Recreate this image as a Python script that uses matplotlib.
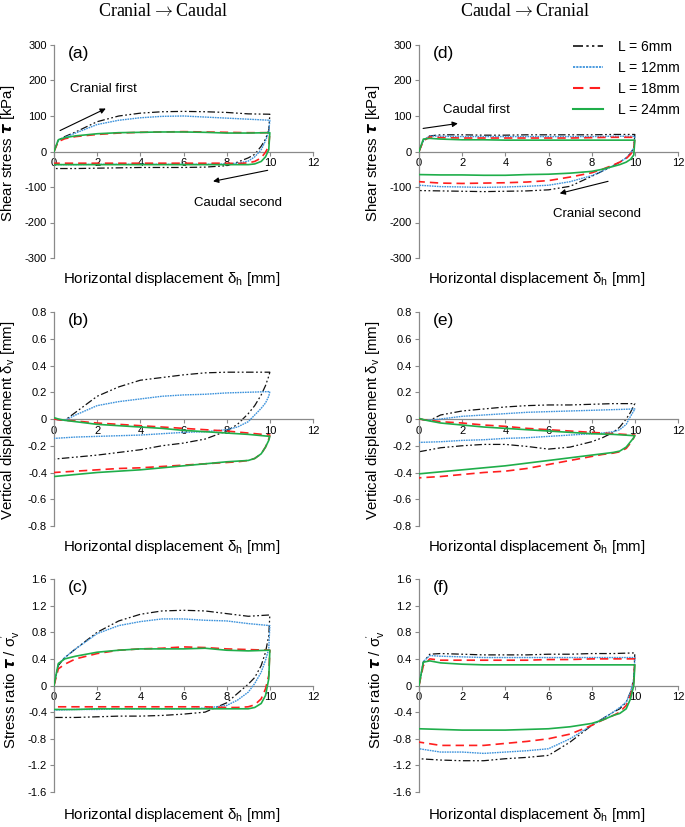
import matplotlib
matplotlib.use("Agg")
import matplotlib.pyplot as plt
from matplotlib.lines import Line2D

plt.rcParams['font.family'] = ['Liberation Sans', 'DejaVu Sans']
plt.rcParams['mathtext.fontset'] = 'custom'
plt.rcParams['mathtext.rm'] = 'Liberation Sans'
plt.rcParams['mathtext.it'] = 'Liberation Sans:italic'
plt.rcParams['mathtext.bf'] = 'Liberation Sans:bold'

# ---------------- data ----------------
series_names = ["L = 6mm", "L = 12mm", "L = 18mm", "L = 24mm"]
x_fwd = [0, 0.2, 0.5, 1, 2, 3, 4, 5, 6, 7, 8, 9, 10]
x_rev = [10, 9.95, 9.8, 9.6, 9.3, 9.0, 8.5, 8, 7, 6, 5, 4, 3, 2, 1, 0]

# (a) shear stress, Cranial -> Caudal
a_fwd_6 = [0, 32, 42, 55, 84, 100, 108, 112, 113, 112, 110, 106, 105]
a_fwd_12 = [0, 33, 40, 52, 76, 88, 95, 99, 100, 97, 94, 91, 88]
a_fwd_18 = [0, 28, 36, 42, 48, 52, 54, 55, 56, 55, 54, 53, 53]
a_fwd_24 = [0, 33, 39, 44, 50, 53, 54, 55, 55, 54, 52, 52, 53]
a_rev_6 = [105, 60, 35, 15, -8, -18, -30, -40, -44, -45, -45, -45, -46, -47, -48, -48]
a_rev_12 = [88, 55, 30, 5, -15, -27, -33, -35, -36, -36, -36, -36, -36, -36, -37, -37]
a_rev_18 = [53, 15, -2, -18, -28, -32, -34, -33, -33, -33, -33, -33, -33, -33, -33, -33]
a_rev_24 = [53, 5, -15, -28, -35, -37, -37, -37, -37, -37, -37, -37, -37, -37, -37, -37]

# (d) shear stress, Caudal -> Cranial
d_fwd_6 = [0, 30, 44, 47, 47, 46, 46, 47, 47, 47, 47, 48, 48]
d_fwd_12 = [0, 32, 44, 43, 42, 42, 42, 42, 42, 42, 42, 43, 43]
d_fwd_18 = [0, 30, 41, 39, 38, 38, 38, 38, 38, 38, 39, 40, 40]
d_fwd_24 = [0, 35, 37, 35, 33, 33, 32, 32, 32, 32, 32, 32, 32]
d_rev_6 = [48, 10, -5, -18, -30, -40, -55, -70, -98, -108, -111, -112, -113, -112, -111, -110]
d_rev_12 = [43, 10, -5, -18, -30, -40, -55, -68, -85, -95, -98, -100, -101, -100, -99, -95]
d_rev_18 = [40, 5, -8, -20, -30, -38, -50, -60, -72, -82, -86, -88, -89, -90, -89, -85]
d_rev_24 = [32, -10, -22, -30, -37, -42, -50, -56, -61, -64, -65, -67, -67, -66, -66, -65]

# (b) vertical displacement, Cranial -> Caudal
b_fwd_6 = [0, -0.005, -0.01, 0.05, 0.17, 0.24, 0.29, 0.31, 0.33, 0.345, 0.35, 0.35, 0.35]
b_fwd_12 = [0, -0.005, -0.01, 0.03, 0.10, 0.13, 0.15, 0.17, 0.18, 0.185, 0.195, 0.20, 0.205]
b_fwd_18 = [0, -0.005, -0.01, -0.015, -0.03, -0.04, -0.05, -0.06, -0.07, -0.08, -0.09, -0.105, -0.12]
b_fwd_24 = [0.01, 0, -0.01, -0.02, -0.04, -0.05, -0.06, -0.07, -0.085, -0.095, -0.105, -0.115, -0.13]
b_rev_6 = [0.35, 0.32, 0.25, 0.18, 0.10, 0.04, -0.04, -0.09, -0.15, -0.18, -0.20, -0.23, -0.25, -0.27, -0.285, -0.30]
b_rev_12 = [0.205, 0.17, 0.12, 0.08, 0.03, -0.02, -0.06, -0.08, -0.095, -0.10, -0.11, -0.12, -0.125, -0.13, -0.135, -0.145]
b_rev_18 = [-0.12, -0.15, -0.21, -0.26, -0.295, -0.31, -0.32, -0.325, -0.335, -0.345, -0.355, -0.365, -0.37, -0.38, -0.39, -0.40]
b_rev_24 = [-0.13, -0.16, -0.21, -0.26, -0.295, -0.31, -0.315, -0.32, -0.335, -0.35, -0.365, -0.38, -0.39, -0.40, -0.415, -0.43]

# (e) vertical displacement, Caudal -> Cranial
e_fwd_6 = [0, -0.005, -0.01, 0.03, 0.06, 0.075, 0.09, 0.10, 0.105, 0.105, 0.11, 0.115, 0.115]
e_fwd_12 = [0, -0.005, -0.01, 0.0, 0.02, 0.03, 0.04, 0.05, 0.055, 0.06, 0.065, 0.07, 0.075]
e_fwd_18 = [0, -0.005, -0.01, -0.02, -0.03, -0.045, -0.055, -0.07, -0.08, -0.09, -0.10, -0.11, -0.12]
e_fwd_24 = [0.005, -0.005, -0.015, -0.03, -0.045, -0.06, -0.07, -0.08, -0.09, -0.10, -0.11, -0.115, -0.125]
e_rev_6 = [0.115, 0.10, 0.05, 0.0, -0.06, -0.10, -0.14, -0.17, -0.21, -0.225, -0.205, -0.19, -0.19, -0.20, -0.215, -0.245]
e_rev_12 = [0.075, 0.06, 0.02, -0.04, -0.08, -0.095, -0.105, -0.11, -0.12, -0.13, -0.14, -0.145, -0.155, -0.16, -0.17, -0.175]
e_rev_18 = [-0.12, -0.14, -0.18, -0.22, -0.245, -0.255, -0.265, -0.28, -0.31, -0.34, -0.37, -0.39, -0.40, -0.415, -0.43, -0.44]
e_rev_24 = [-0.125, -0.14, -0.17, -0.21, -0.24, -0.25, -0.26, -0.27, -0.29, -0.31, -0.33, -0.35, -0.365, -0.38, -0.395, -0.41]

# (c) stress ratio, Cranial -> Caudal
c_fwd_6 = [0, 0.30, 0.42, 0.55, 0.80, 0.97, 1.07, 1.12, 1.13, 1.12, 1.08, 1.04, 1.06]
c_fwd_12 = [0, 0.32, 0.42, 0.55, 0.78, 0.90, 0.96, 1.00, 1.00, 0.98, 0.97, 0.93, 0.90]
c_fwd_18 = [0, 0.25, 0.32, 0.40, 0.48, 0.53, 0.55, 0.56, 0.58, 0.57, 0.55, 0.54, 0.53]
c_fwd_24 = [0, 0.33, 0.40, 0.44, 0.50, 0.53, 0.55, 0.55, 0.55, 0.56, 0.53, 0.52, 0.53]
c_rev_6 = [1.06, 0.75, 0.50, 0.30, 0.12, 0.02, -0.12, -0.26, -0.40, -0.43, -0.45, -0.46, -0.46, -0.47, -0.48, -0.48]
c_rev_12 = [0.90, 0.55, 0.38, 0.20, 0.03, -0.10, -0.22, -0.30, -0.34, -0.35, -0.35, -0.35, -0.35, -0.36, -0.36, -0.37]
c_rev_18 = [0.53, 0.15, -0.05, -0.20, -0.29, -0.32, -0.33, -0.33, -0.32, -0.32, -0.32, -0.32, -0.32, -0.32, -0.32, -0.32]
c_rev_24 = [0.53, 0.10, -0.15, -0.27, -0.33, -0.35, -0.35, -0.35, -0.35, -0.35, -0.35, -0.35, -0.35, -0.35, -0.36, -0.36]

# (f) stress ratio, Caudal -> Cranial
f_fwd_6 = [0, 0.35, 0.47, 0.48, 0.47, 0.46, 0.46, 0.46, 0.47, 0.47, 0.48, 0.48, 0.49]
f_fwd_12 = [0, 0.36, 0.45, 0.44, 0.43, 0.42, 0.42, 0.42, 0.42, 0.42, 0.42, 0.42, 0.42]
f_fwd_18 = [0, 0.30, 0.40, 0.38, 0.38, 0.38, 0.38, 0.38, 0.39, 0.39, 0.40, 0.40, 0.40]
f_fwd_24 = [0, 0.35, 0.37, 0.34, 0.32, 0.31, 0.31, 0.31, 0.31, 0.31, 0.31, 0.31, 0.31]
f_rev_6 = [0.49, 0.10, -0.10, -0.25, -0.35, -0.40, -0.50, -0.60, -0.85, -1.05, -1.08, -1.10, -1.13, -1.13, -1.12, -1.10]
f_rev_12 = [0.42, 0.10, -0.10, -0.25, -0.33, -0.40, -0.50, -0.60, -0.80, -0.95, -0.98, -1.00, -1.02, -1.00, -1.00, -0.95]
f_rev_18 = [0.40, 0.05, -0.15, -0.30, -0.40, -0.45, -0.52, -0.60, -0.73, -0.80, -0.84, -0.87, -0.90, -0.90, -0.90, -0.85]
f_rev_24 = [0.31, 0.00, -0.20, -0.35, -0.42, -0.45, -0.52, -0.57, -0.62, -0.65, -0.66, -0.67, -0.67, -0.67, -0.66, -0.65]

x_ticks = [0, 2, 4, 6, 8, 10, 12]
y_ticks_tau = [-300, -200, -100, 0, 100, 200, 300]
y_ticks_dv = [-0.8, -0.6, -0.4, -0.2, 0, 0.2, 0.4, 0.6, 0.8]
y_ticks_ratio = [-1.6, -1.2, -0.8, -0.4, 0, 0.4, 0.8, 1.2, 1.6]
col_titles = [r"Cranial$\rightarrow$Caudal", r"Caudal$\rightarrow$Cranial"]

# ---------------- styles ----------------
colors = ["#111111", "#3d93dc", "#ff1f1f", "#1fae4a"]
styles = [(0, (6, 2, 1.4, 2, 1.4, 2)), (0, (1.2, 0.6)), (0, (5, 3)), "-"]
widths = [0.9, 1.0, 1.2, 1.2]
spine_col = "#8a8a8a"

fig = plt.figure(figsize=(6.85, 8.27), dpi=100)
W, H = 685.0, 827.0
col_x = [54, 419]
row_y = [(45, 258), (312, 526), (579, 792)]
axw = 259


def make_ax(col, row):
    top, bot = row_y[row]
    return fig.add_axes([col_x[col] / W, 1 - bot / H, axw / W, (bot - top) / H])


panels = [
    (0, 0, "(a)", [a_fwd_6, a_fwd_12, a_fwd_18, a_fwd_24], [a_rev_6, a_rev_12, a_rev_18, a_rev_24],
     (-300, 300), y_ticks_tau, r"Shear stress $\boldsymbol{\tau}$ [kPa]"),
    (1, 0, "(d)", [d_fwd_6, d_fwd_12, d_fwd_18, d_fwd_24], [d_rev_6, d_rev_12, d_rev_18, d_rev_24],
     (-300, 300), y_ticks_tau, r"Shear stress $\boldsymbol{\tau}$ [kPa]"),
    (0, 1, "(b)", [b_fwd_6, b_fwd_12, b_fwd_18, b_fwd_24], [b_rev_6, b_rev_12, b_rev_18, b_rev_24],
     (-0.8, 0.8), y_ticks_dv, r"Vertical displacement δ$_\mathregular{v}$ [mm]"),
    (1, 1, "(e)", [e_fwd_6, e_fwd_12, e_fwd_18, e_fwd_24], [e_rev_6, e_rev_12, e_rev_18, e_rev_24],
     (-0.8, 0.8), y_ticks_dv, r"Vertical displacement δ$_\mathregular{v}$ [mm]"),
    (0, 2, "(c)", [c_fwd_6, c_fwd_12, c_fwd_18, c_fwd_24], [c_rev_6, c_rev_12, c_rev_18, c_rev_24],
     (-1.6, 1.6), y_ticks_ratio, r"Stress ratio $\boldsymbol{\tau}$ / σ$_\mathregular{v}^{\mathregular{'}}$"),
    (1, 2, "(f)", [f_fwd_6, f_fwd_12, f_fwd_18, f_fwd_24], [f_rev_6, f_rev_12, f_rev_18, f_rev_24],
     (-1.6, 1.6), y_ticks_ratio, r"Stress ratio $\boldsymbol{\tau}$ / σ$_\mathregular{v}^{\mathregular{'}}$"),
]

xlab_off = [-0.099, -0.098, -0.108]
ylab_cy = [0.49, 0.495, 0.48]
ylab_cx = [-0.178, -0.176, -0.168]
axes = {}

for col, row, lab, fwds, revs, ylim, yticks, ylabel in panels:
    ax = make_ax(col, row)
    axes[lab] = ax
    for i in range(4):
        xs = x_fwd + x_rev
        ys = fwds[i] + revs[i]
        ax.plot(xs, ys, color=colors[i], linestyle=styles[i], lw=widths[i],
                label=series_names[i], zorder=2 + i)
    ax.set_xlim(0, 12)
    ax.set_ylim(*ylim)
    ax.set_xticks(x_ticks)
    ax.set_yticks(yticks)
    if ylim[1] == 300:
        ax.set_yticklabels([str(v) for v in yticks])
    else:
        ax.set_yticklabels(["0" if v == 0 else f"{v:.1f}" for v in yticks])
    for s in ["top", "right"]:
        ax.spines[s].set_visible(False)
    ax.spines["bottom"].set_position(("data", 0))
    for s in ["left", "bottom"]:
        ax.spines[s].set_color(spine_col)
        ax.spines[s].set_linewidth(0.9)
    ax.tick_params(axis="both", direction="out", length=3, width=0.8, color=spine_col,
                   labelsize=8, pad=2)
    ax.patch.set_visible(False)
    ax.text(0.455, xlab_off[row], r"Horizontal displacement δ$_\mathregular{h}$ [mm]",
            transform=ax.transAxes, ha="center", va="center", fontsize=10.8)
    ax.text(ylab_cx[row], ylab_cy[row], ylabel, transform=ax.transAxes, rotation=90,
            ha="center", va="center", fontsize=10.8)
    ax.text(0.054, 0.962, lab, transform=ax.transAxes, ha="left", va="center", fontsize=12.5)

# annotations
arr = dict(arrowstyle="-|>", lw=0.8, color="black", mutation_scale=8, shrinkA=0, shrinkB=0)
ax = axes["(a)"]
ax.annotate("", xy=(2.4, 121), xytext=(0.28, 59), arrowprops=arr)
ax.text(0.74, 175, "Cranial first", fontsize=9.5, ha="left", va="center")
ax.annotate("", xy=(7.37, -84), xytext=(9.9, -53), arrowprops=arr)
ax.text(6.5, -144, "Caudal second", fontsize=9.5, ha="left", va="center")
ax = axes["(d)"]
ax.annotate("", xy=(1.8, 79), xytext=(0.19, 65), arrowprops=arr)
ax.text(1.1, 118, "Caudal first", fontsize=9.5, ha="left", va="center")
ax.annotate("", xy=(6.52, -118), xytext=(8.76, -84), arrowprops=arr)
ax.text(6.2, -175, "Cranial second", fontsize=9.5, ha="left", va="center")

# legend in (d)
ax = axes["(d)"]
handles = [Line2D([], [], color=colors[i], linestyle=styles[i], lw=widths[i] + 0.3) for i in range(4)]
ax.legend(handles, series_names, loc="upper left", bbox_to_anchor=(0.595, 1.025),
          frameon=False, fontsize=10, handlelength=2.15, handletextpad=1.08,
          labelspacing=0.5, borderpad=0, borderaxespad=0)

# column titles
fig.text(163 / W, 1 - 12 / H, col_titles[0], ha="center", va="center",
         fontsize=13, family="Liberation Serif", math_fontfamily="cm")
fig.text(525 / W, 1 - 12 / H, col_titles[1], ha="center", va="center",
         fontsize=13, family="Liberation Serif", math_fontfamily="cm")

fig.savefig("out.png", dpi=100)
